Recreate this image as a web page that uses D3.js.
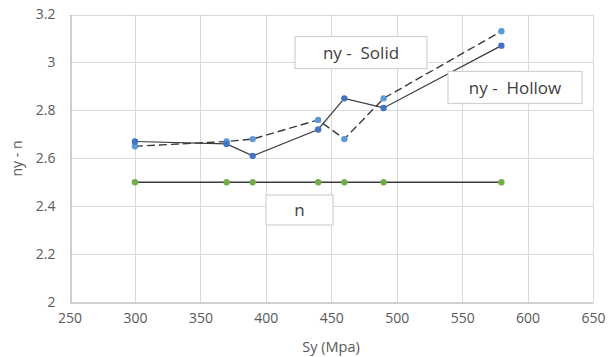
<!DOCTYPE html>
<html>
<head>
<meta charset="utf-8">
<script src="https://cdn.jsdelivr.net/npm/d3@7"></script>
<style>
  html, body { margin: 0; padding: 0; background: #fff; }
  svg { display: block; }
  text { font-family: "Open Sans", "DejaVu Sans", sans-serif; }
</style>
</head>
<body>
<svg id="chart" width="608" height="357"></svg>
<script>
// Yield strength Sy (MPa)
const sy = [300, 370, 390, 440, 460, 490, 580];
// Safety factors
const nySolid  = [2.65, 2.67, 2.68, 2.76, 2.68, 2.85, 3.13];
const nyHollow = [2.67, 2.66, 2.61, 2.72, 2.85, 2.81, 3.07];
const nDesign  = [2.5, 2.5, 2.5, 2.5, 2.5, 2.5, 2.5];

const xTicks = [250, 300, 350, 400, 450, 500, 550, 600, 650];
const yTicks = [2, 2.2, 2.4, 2.6, 2.8, 3, 3.2];

const svg = d3.select("#chart");
const x = d3.scaleLinear().domain([250, 650]).range([69.5, 593]);
const y = d3.scaleLinear().domain([2, 3.2]).range([302, 14.5]);

// gridlines
svg.append("g").selectAll("line").data(yTicks.slice(1)).join("line")
  .attr("x1", x(250)).attr("x2", x(650))
  .attr("y1", d => Math.round(y(d)) + 0.5).attr("y2", d => Math.round(y(d)) + 0.5)
  .attr("stroke", "#d9d9d9").attr("stroke-width", 1);
svg.append("g").selectAll("line").data(xTicks.slice(1)).join("line")
  .attr("x1", d => Math.round(x(d)) + 0.5).attr("x2", d => Math.round(x(d)) + 0.5)
  .attr("y1", y(3.2)).attr("y2", y(2))
  .attr("stroke", "#d9d9d9").attr("stroke-width", 1);

// axes
const xAxis = svg.append("g").attr("transform", `translate(0,${Math.round(y(2)) + 0.5})`)
  .call(d3.axisBottom(x).tickValues(xTicks).tickSize(0).tickPadding(11).tickFormat(d3.format("d")));
xAxis.select(".domain").attr("stroke", "#bfbfbf").attr("stroke-width", 1.5);
xAxis.selectAll("text").attr("fill", "#595959").style("font-size", "14px");

const yAxis = svg.append("g").attr("transform", `translate(${Math.round(x(250)) + 0.5},0)`)
  .call(d3.axisLeft(y).tickValues(yTicks).tickSize(0).tickPadding(15).tickFormat(d => d3.format("")(d)));
yAxis.select(".domain").attr("stroke", "#bfbfbf").attr("stroke-width", 1.5);
yAxis.selectAll("text").attr("fill", "#595959").style("font-size", "14px");

// axis titles
svg.append("text").attr("x", 331).attr("y", 351.5).attr("text-anchor", "middle")
  .attr("fill", "#595959").style("font-size", "14.5px").text("Sy (Mpa)");
svg.append("text").attr("transform", "translate(22,158.5) rotate(-90)").attr("text-anchor", "middle")
  .attr("fill", "#595959").style("font-size", "14px").text("ny - n");

const line = d3.line().x((d, i) => x(sy[i])).y(d => y(d));

function series(values, color, dash, strokeW) {
  svg.append("path").datum(values).attr("d", line)
    .attr("fill", "none").attr("stroke", "#3b3b3b").attr("stroke-width", strokeW)
    .attr("stroke-dasharray", dash);
  svg.append("g").selectAll("circle").data(values).join("circle")
    .attr("cx", (d, i) => x(sy[i])).attr("cy", d => y(d)).attr("r", 3.2)
    .attr("fill", color);
}
series(nDesign, "#70ad47", null, 1.5);
series(nySolid, "#5b9bd5", "8,4", 1.4);
series(nyHollow, "#4472c4", null, 1.2);

// series labels
const labels = [
  { text: "ny -  Solid",  x0: 295, y0: 36.5, w: 132, h: 32 },
  { text: "ny -  Hollow", x0: 448, y0: 71.5, w: 134, h: 32 },
  { text: "n",            x0: 266, y0: 195,  w: 67,  h: 30 }
];
const lg = svg.append("g").selectAll("g").data(labels).join("g");
lg.append("rect").attr("x", d => d.x0).attr("y", d => d.y0).attr("width", d => d.w).attr("height", d => d.h)
  .attr("fill", "#fff").attr("stroke", "#d0d0d0").attr("stroke-width", 1.2);
lg.append("text").attr("x", d => d.x0 + d.w / 2).attr("y", d => d.y0 + d.h / 2 + 6)
  .attr("text-anchor", "middle").attr("fill", "#404040").style("font-size", "17px")
  .style("white-space", "pre").attr("xml:space", "preserve").text(d => d.text);
</script>
</body>
</html>
